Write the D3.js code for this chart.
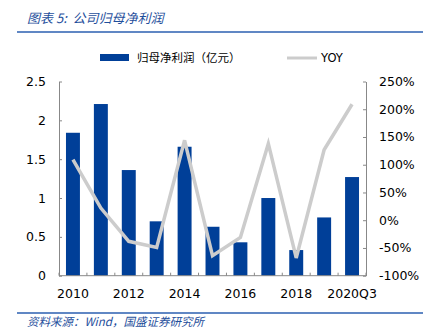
<!DOCTYPE html>
<html><head><meta charset="utf-8">
<script src="https://cdn.jsdelivr.net/npm/d3@7"></script>
<style>body{margin:0;background:#fff}</style>
</head><body>
<svg id="c" width="430" height="332"></svg>
<script>
const categories = ["2010","2011","2012","2013","2014","2015","2016","2017","2018","2019","2020Q3"];
const profit = [1.84,2.21,1.36,0.70,1.66,0.63,0.43,1.00,0.33,0.75,1.27];
const yoy = [109,22,-38,-49,144,-64,-31,138,-68,127,209];
const leftTicks = [0,0.5,1,1.5,2,2.5];
const rightTicks = [-100,-50,0,50,100,150,200,250];
const shownLabels = ["2010","2012","2014","2016","2018","2020Q3"];

const svg = d3.select("#c");
const blue = "#003f98", gray = "#cccccc", txtBlue = "#1f4f9c";
const L = 59, R = 366, T = 81.5, B = 275.7;
const font = "Tahoma, 'DejaVu Sans', sans-serif";

// title
svg.append("text").attr("x",27).attr("y",23).attr("font-size",13).attr("font-style","italic")
  .attr("font-family","'Noto Sans CJK SC', sans-serif").attr("fill",txtBlue).attr("xml:space","preserve").text("图表 5:  公司归母净利润");
svg.append("line").attr("x1",17).attr("x2",423).attr("y1",32).attr("y2",32).attr("stroke","#2b5fb0").attr("stroke-width",1.5);
svg.append("line").attr("x1",17).attr("x2",423).attr("y1",313).attr("y2",313).attr("stroke","#2b5fb0").attr("stroke-width",1.5);
svg.append("text").attr("x",27).attr("y",326).attr("font-size",11.5).attr("font-style","italic")
  .attr("font-family","'Noto Sans CJK SC', sans-serif").attr("fill",txtBlue).text("资料来源：Wind，国盛证券研究所");

const x = d3.scaleBand().domain(categories).range([L,R]).paddingInner(0.5).paddingOuter(0.25);
const yL = d3.scaleLinear().domain([0,2.5]).range([B,T]);
const yR = d3.scaleLinear().domain([-100,250]).range([B,T]);

// bars
svg.append("g").selectAll("rect").data(profit).join("rect")
  .attr("x",(d,i)=>x(categories[i])).attr("width",x.bandwidth())
  .attr("y",d=>yL(d)).attr("height",d=>yL(0)-yL(d)).attr("fill",blue);

// line
const line = d3.line().x((d,i)=>x(categories[i])+x.bandwidth()/2).y(d=>yR(d));
svg.append("path").datum(yoy).attr("d",line).attr("fill","none").attr("stroke",gray).attr("stroke-width",3.5).attr("stroke-linejoin","miter");

// axes
const axStyle = g=>{g.selectAll("path,line").attr("stroke","#888");g.selectAll("text").attr("font-family",font).attr("font-size",12.5).attr("fill","#000");};
const gl = svg.append("g").attr("transform",`translate(${L},0)`)
  .call(d3.axisLeft(yL).tickValues(leftTicks).tickFormat(d3.format("")).tickSizeInner(-3).tickSizeOuter(0).tickPadding(13));
gl.call(axStyle);
const gr = svg.append("g").attr("transform",`translate(${R},0)`)
  .call(d3.axisRight(yR).tickValues(rightTicks).tickFormat(d=>d+"%").tickSizeInner(-3).tickSizeOuter(0).tickPadding(13));
gr.call(axStyle);
const gx = svg.append("g").attr("transform",`translate(0,${B})`);
gx.append("line").attr("x1",L).attr("x2",R).attr("stroke","#888");
gx.selectAll("line.t").data(d3.range(categories.length+1)).join("line").attr("class","t")
  .attr("x1",i=>L+i*(R-L)/categories.length).attr("x2",i=>L+i*(R-L)/categories.length)
  .attr("y1",0).attr("y2",-3).attr("stroke","#888");
gx.selectAll("text").data(categories.filter(c=>shownLabels.includes(c))).join("text")
  .attr("x",c=>x(c)+x.bandwidth()/2).attr("y",22).attr("text-anchor","middle")
  .attr("font-family",font).attr("font-size",12.5).text(c=>c);

// legend
svg.append("rect").attr("x",100).attr("y",54).attr("width",29).attr("height",7).attr("fill",blue);
svg.append("text").attr("x",137).attr("y",62).attr("font-size",11.5).attr("font-family","'Noto Sans CJK SC', sans-serif").text("归母净利润（亿元）");
svg.append("line").attr("x1",287).attr("x2",317).attr("y1",58).attr("y2",58).attr("stroke",gray).attr("stroke-width",3);
svg.append("text").attr("x",321).attr("y",62).attr("font-size",11.5).attr("font-family",font).text("YOY");
</script>
</body></html>
